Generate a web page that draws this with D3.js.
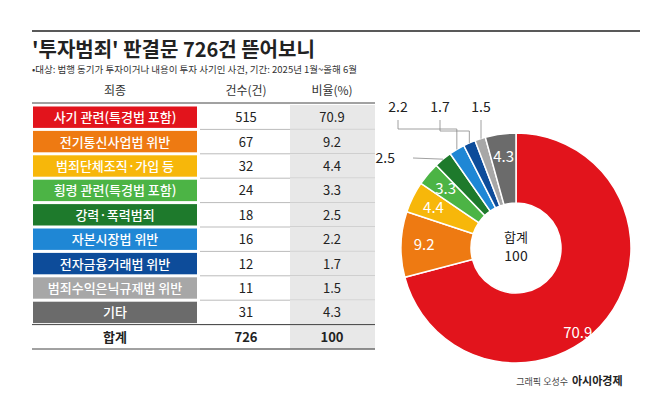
<!DOCTYPE html>
<html><head><meta charset="utf-8">
<script src="https://cdn.jsdelivr.net/npm/d3@7"></script>
<style>body{margin:0;background:#fff;font-family:"Noto Sans CJK KR",sans-serif}</style>
</head><body><svg id="c" width="658" height="402"></svg>
<script>
const categories = ["사기 관련(특경법 포함)","전기통신사업법 위반","범죄단체조직·가입 등","횡령 관련(특경법 포함)","강력·폭력범죄","자본시장법 위반","전자금융거래법 위반","범죄수익은닉규제법 위반","기타"];
const counts = [515,67,32,24,18,16,12,11,31];
const ratios = [70.9,9.2,4.4,3.3,2.5,2.2,1.7,1.5,4.3];
const colors = ["#e2141c","#ee7a12","#f7b70a","#4cb445","#1e7a2c","#1f87d5","#0d4c9a","#a7a7a7","#6b6b6b"];

const svg = d3.select("#c");
svg.append("line").attr("x1",32).attr("x2",640).attr("y1",31).attr("y2",31).attr("stroke","#222").attr("stroke-width",1.5);
svg.append("text").attr("x",32).attr("y",57).attr("font-size",20).attr("font-weight",700).attr("fill","#222").text("'투자범죄' 판결문 726건 뜯어보니");
svg.append("text").attr("x",32).attr("y",73).attr("font-size",9.5).attr("fill","#333").text("•대상: 범행 동기가 투자이거나 내용이 투자 사기인 사건, 기간: 2025년 1월~올해 6월");

// table
const rowH = 24.4, tableTop = 105;
const y = i => tableTop + i*rowH;
const hdr = [["죄종",115],["건수(건)",246],["비율(%)",332]];
svg.selectAll(".h").data(hdr).join("text").attr("x",d=>d[1]).attr("y",95).attr("text-anchor","middle").attr("font-size",12).attr("fill","#333").text(d=>d[0]);
svg.append("line").attr("x1",32).attr("x2",375).attr("y1",103).attr("y2",103).attr("stroke","#444");
const rows = categories.map((c,i)=>({c,n:counts[i],r:ratios[i],col:colors[i]}));
rows.push({c:"합계",n:726,r:100,col:null});
const g = svg.selectAll(".r").data(rows).join("g").attr("transform",(d,i)=>`translate(0,${y(i)})`);
g.append("rect").attr("x",290).attr("width",85).attr("height",rowH).attr("fill","#e8e8e8");
g.filter(d=>d.col).append("rect").attr("x",33).attr("y",1.5).attr("width",164).attr("height",rowH-3).attr("fill",d=>d.col);
g.append("line").attr("x1",200).attr("x2",375).attr("y1",rowH).attr("y2",rowH).attr("stroke","#bbb");
g.filter(d=>!d.col).append("line").attr("x1",32).attr("x2",375).attr("y1",0).attr("y2",0).attr("stroke","#444");
g.filter(d=>!d.col).append("line").attr("x1",32).attr("x2",375).attr("y1",rowH).attr("y2",rowH).attr("stroke","#444");
g.append("text").attr("x",115).attr("y",rowH/2+5).attr("text-anchor","middle").attr("font-size",13).attr("font-weight",d=>d.col?500:700)
  .attr("fill",d=>d.col?"#fff":"#222").text(d=>d.c);
g.append("text").attr("x",246).attr("y",rowH/2+5).attr("text-anchor","middle").attr("font-size",13).attr("fill","#222").attr("font-weight",d=>d.col?400:700).text(d=>d.n);
g.append("text").attr("x",332).attr("y",rowH/2+5).attr("text-anchor","middle").attr("font-size",13).attr("fill","#222").attr("font-weight",d=>d.col?400:700).text(d=>d.r);

// donut
const cx=516, cy=248, R=115, r0=45;
const pie = d3.pie().sort(null).value(d=>d)(ratios);
const arc = d3.arc().innerRadius(r0).outerRadius(R);
const dg = svg.append("g").attr("transform",`translate(${cx},${cy})`);
dg.selectAll("path").data(pie).join("path").attr("d",arc).attr("fill",(d,i)=>colors[i]).attr("stroke","#fff").attr("stroke-width",1.5);
const inside = [0,1,2,3,8];
dg.selectAll(".in").data(pie.filter((d,i)=>inside.includes(i))).join("text")
  .attr("transform",d=>{
    let a=(d.startAngle+d.endAngle)/2, rr=92;
    if(d.index===0){a=Math.PI*0.8; rr=105;}
    return `translate(${rr*Math.sin(a)},${-rr*Math.cos(a)})`})
  .attr("text-anchor","middle").attr("dy","0.35em").attr("font-size",15).attr("fill","#fff").text(d=>ratios[d.index]);
dg.append("text").attr("y",-6).attr("text-anchor","middle").attr("font-size",13).attr("fill","#222").text("합계");
dg.append("text").attr("y",13).attr("text-anchor","middle").attr("font-size",14).attr("fill","#222").text("100");

// outside leaders
const outer = d3.arc().innerRadius(R).outerRadius(R);
const outs = [{i:4,lx:395,ly:158,txt:"left"},{i:5,lx:398,ly:112,knee:129},{i:6,lx:440,ly:112,knee:131},{i:7,lx:481,ly:112}];
outs.forEach(o=>{
  const p = outer.centroid(pie[o.i]); const px=cx+p[0], py=cy+p[1];
  let pts;
  if(o.txt==="left") pts=[[px,py],[o.lx+18,o.ly]];
  else if(o.knee) pts=[[o.lx,o.ly+8],[o.lx,o.knee],[px,o.knee],[px,py]];
  else pts=[[o.lx,o.ly+8],[o.lx,py]];
  svg.append("path").attr("d",d3.line()(pts)).attr("fill","none").attr("stroke","#888").attr("stroke-width",0.8);
  svg.append("text").attr("x",o.lx).attr("y",o.ly+(o.txt==="left"?5:0)).attr("text-anchor",o.txt==="left"?"end":"middle")
    .attr("font-size",14).attr("fill","#222").text(ratios[o.i]);
});

svg.append("text").attr("x",568).attr("y",385).attr("text-anchor","end").attr("font-size",9).attr("fill","#444").text("그래픽 오성수");
svg.append("text").attr("x",572).attr("y",385).attr("font-size",11).attr("font-weight",700).attr("fill","#222").text("아시아경제");
</script></body></html>
